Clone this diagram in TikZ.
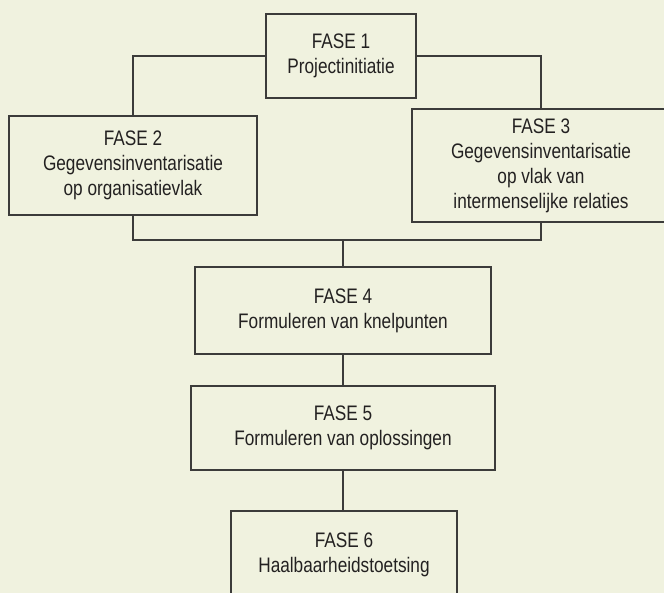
\documentclass[tikz,border=0pt]{standalone}
\usepackage{fontspec}
\setmainfont[FakeStretch=0.82]{Liberation Sans}
\definecolor{bg}{RGB}{240,242,223}
\definecolor{ink}{RGB}{35,33,33}
\definecolor{rule}{RGB}{60,60,58}
\begin{document}
\begin{tikzpicture}[x=1pt,y=-1pt,
  box/.style={draw=rule, line width=1.1pt, fill=bg, align=center, text=ink,
    font=\fontsize{21}{25}\selectfont, inner sep=0pt},
  conn/.style={draw=rule, line width=1.1pt}]
\useasboundingbox (0,0) rectangle (664,593);
\fill[bg] (0,0) rectangle (664,593);
\clip (0,0) rectangle (664,593);
\node[box, minimum width=150pt, minimum height=84pt] (f1) at (341,56) {FASE 1\\Projectinitiatie};
\node[box, minimum width=248pt, minimum height=99pt] (f2) at (133,165.5) {FASE 2\\Gegevensinventarisatie\\op organisatievlak};
\node[box, minimum width=258pt, minimum height=113pt] (f3) at (541,165.5) {FASE 3\\Gegevensinventarisatie\\op vlak van\\intermenselijke relaties};
\node[box, minimum width=296pt, minimum height=87pt] (f4) at (343,310.5) {FASE 4\\Formuleren van knelpunten};
\node[box, minimum width=304pt, minimum height=84pt] (f5) at (343,428) {FASE 5\\Formuleren van oplossingen};
\node[box, minimum width=226pt, minimum height=88pt] (f6) at (344,555) {FASE 6\\Haalbaarheidstoetsing};
\coordinate (j) at (343,240);
\draw[conn] (f1.west) -| (f2.north);
\draw[conn] (f1.east) -| (f3.north);
\draw[conn] (f2.south) |- (j) -| (f3.south);
\draw[conn] (j) -- (f4.north);
\draw[conn] (f4.south) -- (f4.south |- f5.north);
\draw[conn] (f5.south) -- (f5.south |- f6.north);
\end{tikzpicture}
\end{document}
